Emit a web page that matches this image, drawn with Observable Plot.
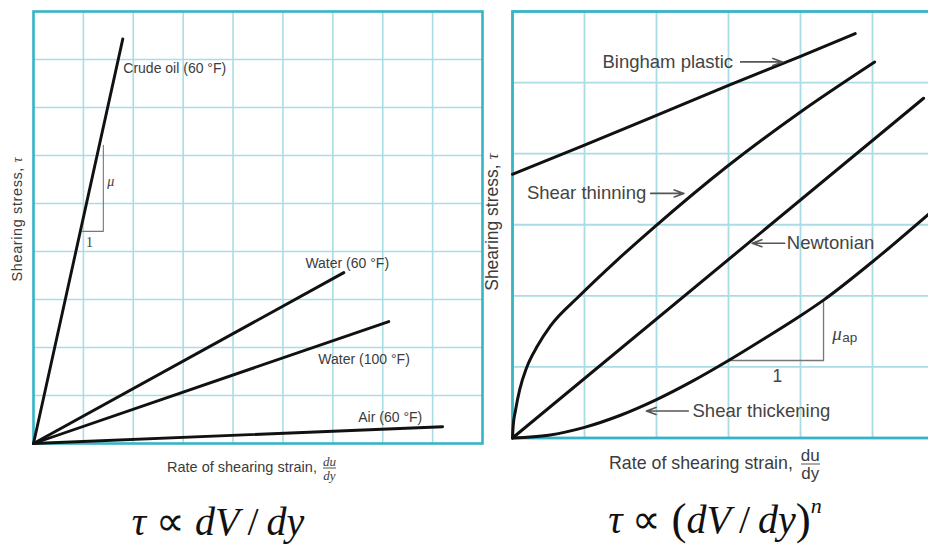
<!DOCTYPE html>
<html><head><meta charset="utf-8">
<script src="https://cdn.jsdelivr.net/npm/d3@7"></script>
<script src="https://cdn.jsdelivr.net/npm/@observablehq/plot@0.6"></script>
<style>
html,body{margin:0;padding:0;background:#fff;overflow:hidden;}
#wrap{position:relative;width:928px;height:548px;overflow:hidden;font-family:"Liberation Sans",Arial,sans-serif;color:#3c3c3c;}
.abs{position:absolute;white-space:nowrap;}
.svgbox{position:absolute;top:0;}
.frac{display:inline-block;vertical-align:middle;text-align:center;line-height:1;}
.frac span{display:block;}
.serif{font-family:"Liberation Serif","Times New Roman",serif;}
.big{font-size:45px;line-height:0;vertical-align:-1px;}
</style></head><body><div id="wrap"></div>
<script>
// ---------- Left panel: Newtonian fluids (straight lines from origin) ----------
const fluidNames  = ["Crude oil (60 °F)", "Water (60 °F)", "Water (100 °F)", "Air (60 °F)"];
const fluidEndX   = [1.79, 6.22, 7.12, 8.20];
const fluidEndY   = [8.43, 3.56, 2.54, 0.35];
const fluidLabelX = [1.80, 5.45, 5.71, 6.51];
const fluidLabelY = [7.81, 3.75, 1.75, 0.55];
// slope triangle on crude oil line
const muTriX = [0.98, 1.40, 1.40];
const muTriY = [4.42, 4.42, 6.21];
const muLabel = {x: 1.48, y: 5.46};
const oneLabelLeft = {x: 1.12, y: 4.19};

// ---------- Right panel: non-Newtonian fluids ----------
const binghamX = [0, 1, 2, 3, 4, 4.76];
const binghamY = [3.71, 4.12, 4.54, 4.96, 5.37, 5.69];
const thinningX = [0, 0.01, 0.04, 0.10, 0.20, 0.35, 0.53, 0.92, 1.45, 1.95, 2.98, 3.99, 5.03];
const thinningY = [0, 0.18, 0.38, 0.68, 1.00, 1.30, 1.58, 1.99, 2.50, 2.95, 3.82, 4.58, 5.29];
const newtonianX = [0, 5.71];
const newtonianY = [0, 4.78];
const thickeningX = [0, 0.5, 1.0, 1.5, 2.0, 2.5, 3.0, 3.5, 4.0, 4.32, 5.0, 5.78];
const thickeningY = [0, 0.04, 0.15, 0.32, 0.54, 0.80, 1.09, 1.40, 1.72, 1.94, 2.48, 3.15];
const rightNames = ["Bingham plastic", "Shear thinning", "Newtonian", "Shear thickening"];
const rightLabelX = [1.25, 0.20, 3.81, 2.50];
const rightLabelY = [5.29, 3.44, 2.74, 0.38];
const arrowX1 = [3.17, 1.92, 3.78, 2.44];
const arrowX2 = [3.75, 2.38, 3.33, 1.86];
const apTriX = [3.00, 4.32, 4.32];
const apTriY = [1.09, 1.09, 1.94];
const muApLabel = {x: 4.44, y: 1.47};
const oneLabelRight = {x: 3.68, y: 0.86};

const gridColor = "#a9dde3";
const borderColor = "#35b4c4";
const ink = "#111";
const labelInk = "#3c3c3c";

const wrap = document.getElementById("wrap");

// left data
const leftLines = fluidNames.flatMap((n, i) => [
  {name: n, x: 0, y: 0}, {name: n, x: fluidEndX[i], y: fluidEndY[i]}
]);
const leftLabels = fluidNames.map((n, i) => ({text: n, x: fluidLabelX[i], y: fluidLabelY[i]}));
const leftTri = muTriX.map((x, i) => ({x, y: muTriY[i]}));

const left = Plot.plot({
  width: 490, height: 450,
  marginLeft: 33, marginTop: 11, marginRight: 8, marginBottom: 7,
  x: {domain: [0, 9], axis: null},
  y: {domain: [0, 9], axis: null},
  style: {background: "transparent", fontFamily: "Liberation Sans, Arial, sans-serif", overflow: "visible"},
  marks: [
    Plot.gridX(d3.range(1, 9), {stroke: gridColor, strokeOpacity: 1, strokeWidth: 1.6}),
    Plot.gridY(d3.range(1, 9), {stroke: gridColor, strokeOpacity: 1, strokeWidth: 1.6}),
    Plot.frame({stroke: borderColor, strokeWidth: 2.6}),
    Plot.line(leftTri, {x: "x", y: "y", stroke: "#777", strokeWidth: 1.1}),
    Plot.line(leftLines, {x: "x", y: "y", z: "name", stroke: ink, strokeWidth: 2.9}),
    Plot.text(leftLabels, {x: "x", y: "y", text: "text", textAnchor: "start", fontSize: 14, fill: labelInk, style: "letter-spacing:0.5px"}),
    Plot.text([muLabel], {x: "x", y: "y", text: () => "μ", textAnchor: "start", fontSize: 14, fontStyle: "italic", fontFamily: "Liberation Serif, serif", fill: labelInk}),
    Plot.text([oneLabelLeft], {x: "x", y: "y", text: () => "1", fontSize: 14, fontFamily: "Liberation Serif, serif", fill: labelInk})
  ]
});
left.classList.add("svgbox");
left.style.left = "0px";
wrap.appendChild(left);

// right data
const mk = (name, xs, ys) => xs.map((x, i) => ({name, x, y: ys[i]}));
const rightCurves = [
  ...mk("Bingham plastic", binghamX, binghamY),
  ...mk("Shear thinning", thinningX, thinningY),
  ...mk("Newtonian", newtonianX, newtonianY),
  ...mk("Shear thickening", thickeningX, thickeningY)
];
const rightLabels = rightNames.map((n, i) => ({text: n, x: rightLabelX[i], y: rightLabelY[i]}));
const arrows = rightNames.map((n, i) => ({x1: arrowX1[i], x2: arrowX2[i], y: rightLabelY[i]}));
const rightTri = apTriX.map((x, i) => ({x, y: apTriY[i]}));

const right = Plot.plot({
  width: 460, height: 450,
  marginLeft: 22, marginTop: 11, marginRight: 6, marginBottom: 12.5,
  x: {domain: [0, 6], axis: null},
  y: {domain: [0, 6], axis: null},
  style: {background: "transparent", fontFamily: "Liberation Sans, Arial, sans-serif", overflow: "visible"},
  marks: [
    Plot.gridX(d3.range(1, 6), {stroke: gridColor, strokeOpacity: 1, strokeWidth: 1.8}),
    Plot.gridY(d3.range(1, 6), {stroke: gridColor, strokeOpacity: 1, strokeWidth: 1.8}),
    Plot.frame({stroke: borderColor, strokeWidth: 2.8}),
    Plot.line(rightTri, {x: "x", y: "y", stroke: "#777", strokeWidth: 1.3}),
    Plot.line(rightCurves, {x: "x", y: "y", z: "name", curve: "monotone-x", stroke: ink, strokeWidth: 3}),
    Plot.arrow(arrows, {x1: "x1", x2: "x2", y1: "y", y2: "y", stroke: "#555", strokeWidth: 1.7, headLength: 9, headAngle: 40}),
    Plot.text(rightLabels, {x: "x", y: "y", text: "text", textAnchor: "start", fontSize: 18.5, fill: "#444"}),
    Plot.text([muApLabel], {x: "x", y: "y", text: () => "μ", textAnchor: "start", fontSize: 19, fontStyle: "italic", fontFamily: "Liberation Serif, serif", fill: "#444"}),
    Plot.text([muApLabel], {x: "x", y: "y", text: () => "ap", textAnchor: "start", dx: 10, dy: 4, fontSize: 13.5, fill: "#444"}),
    Plot.text([oneLabelRight], {x: "x", y: "y", text: () => "1", fontSize: 17.5, fill: "#444"})
  ]
});
right.classList.add("svgbox");
right.style.left = "490px";
wrap.appendChild(right);

// axis titles & formulas (HTML text)
function add(html, css) {
  const d = document.createElement("div");
  d.className = "abs";
  d.innerHTML = html;
  d.style.cssText += css;
  wrap.appendChild(d);
  return d;
}
// left y title
add("Shearing stress, <span class='serif' style='font-style:italic'>τ</span>",
  "left:17px;top:219px;font-size:14.5px;letter-spacing:0.6px;transform:translate(-50%,-50%) rotate(-90deg);");
// left x title
add("Rate of shearing strain, <span class='frac serif' style='font-style:italic;font-size:13px;margin-left:2px'><span style='border-bottom:1px solid #555'>du</span><span>dy</span></span>",
  "left:167px;top:468px;font-size:14.5px;transform:translateY(-50%);");
// right y title
add("Shearing stress, <span class='serif' style='font-style:italic'>τ</span>",
  "left:492px;top:222px;font-size:17.5px;transform:translate(-50%,-50%) rotate(-90deg);");
// right x title
add("Rate of shearing strain, <span class='frac' style='font-size:17px;margin-left:3px'><span style='border-bottom:1.2px solid #555'>du</span><span>dy</span></span>",
  "left:609px;top:464px;font-size:17.8px;transform:translateY(-50%);");
// formulas
add("<i>τ</i> ∝ <i>dV</i>&thinsp;/&thinsp;<i>dy</i>",
  "left:218px;top:502px;font-size:40px;line-height:40px;color:#111;transform:translateX(-50%);font-family:'Liberation Serif','Times New Roman',serif;");
add("<i>τ</i> ∝ <span class='big'>(</span><i>dV</i>&thinsp;/&thinsp;<i>dy</i><span class='big'>)</span><sup style='font-size:22px;font-style:italic;line-height:0;vertical-align:20px'>n</sup>",
  "left:715px;top:500px;font-size:40px;line-height:40px;color:#111;transform:translateX(-50%);font-family:'Liberation Serif','Times New Roman',serif;");
</script>
</body></html>
